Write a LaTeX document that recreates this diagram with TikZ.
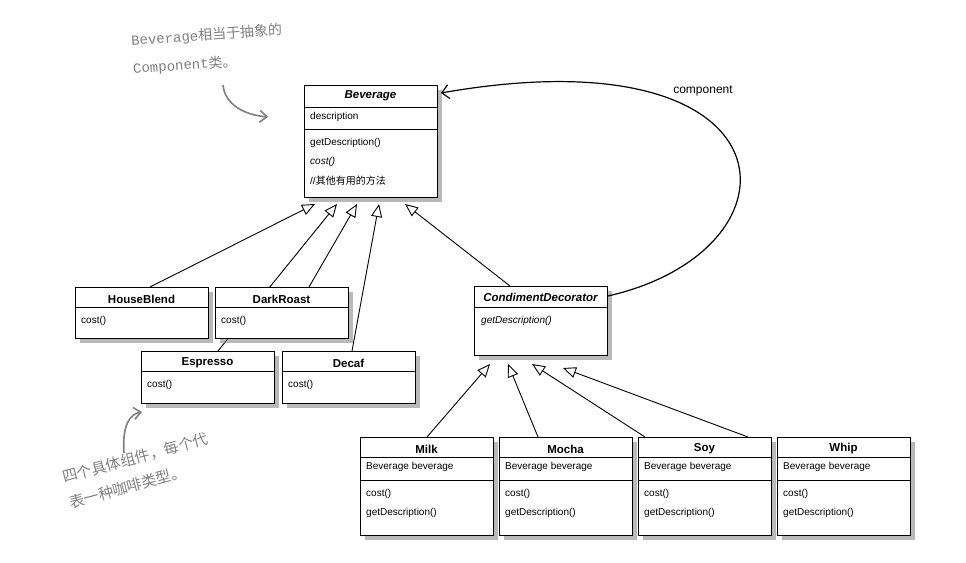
\documentclass[tikz,border=0pt]{standalone}
\usepackage{fontspec}
\setmainfont{Liberation Sans}
\newfontfamily\cjk{Noto Sans CJK SC}
\newfontfamily\hand{Liberation Mono}
\usetikzlibrary{arrows.meta,shadows,calc}
\begin{document}
\begin{tikzpicture}[x=1pt,y=-1pt,
  box/.style={draw,line width=1pt,fill=white,anchor=north west,inner sep=0,drop shadow={shadow xshift=4pt,shadow yshift=-4pt,opacity=0.55}},
  ttl/.style={font=\bfseries\fontsize{11.5}{12}\selectfont,anchor=center},
  itl/.style={font=\bfseries\itshape\fontsize{11.5}{12}\selectfont,anchor=center},
  txt/.style={font=\fontsize{10}{11}\selectfont,anchor=west,inner sep=0},
  inh/.style={line width=0.9pt,-{Triangle[open,length=13pt,width=11pt]}},
  note/.style={text=gray,anchor=west,inner sep=0,align=left},
  narrow/.style={gray,line width=1.6pt,-{Straight Barb[length=7pt,width=12pt]}}]
\useasboundingbox (0,0) rectangle (966,562);
\coordinate (b1) at (315,204);\coordinate (b2) at (337,204);\coordinate (b3) at (357,204);
\coordinate (b4) at (379,204);\coordinate (b5) at (405,204);
\coordinate (c1) at (490,364);\coordinate (c2) at (508,364);\coordinate (c3) at (532,364);\coordinate (c4) at (563,368);
% line passing behind DarkRoast
\draw[inh] (218,351) -- (b2);
% boxes
\node[box,minimum width=133,minimum height=112] (bev) at (304,85) {};
\node[box,minimum width=133,minimum height=51] (hb) at (75,287) {};
\node[box,minimum width=133,minimum height=51] (dr) at (215,287) {};
\node[box,minimum width=133,minimum height=69] (cd) at (474,286) {};
\foreach \n/\x in {milk/360,mocha/499,soy/638,whip/777}
  \node[box,minimum width=133,minimum height=98] (\n) at (\x,437) {};
\node[box,minimum width=133,minimum height=52] (esp) at (141,351) {};
\node[box,minimum width=133,minimum height=52] (dec) at (282,351) {};
% separator lines
\draw[line width=1pt] (304,107) -- (437,107) (304,129) -- (437,129);
\draw[line width=1pt] (75,307) -- (208,307) (215,307) -- (348,307);
\draw[line width=1pt] (141,371) -- (274,371) (282,371) -- (415,371);
\draw[line width=1pt] (474,307) -- (607,307);
\foreach \x in {360,499,638,777}
  \draw[line width=1pt] (\x,457) -- (\x+133,457) (\x,480) -- (\x+133,480);
% texts
\node[itl] at (370.5,96) {Beverage};
\node[txt] at (310,117) {description};
\node[txt] at (310,143) {getDescription()};
\node[txt] at (310,162) {\itshape cost()};
\node[txt] at (310,181) {//{\cjk 其他有用的方法}};
\node[ttl] at (141.5,299) {HouseBlend};
\node[txt] at (81,321) {cost()};
\node[ttl] at (281.5,299) {DarkRoast};
\node[txt] at (221,321) {cost()};
\node[ttl] at (207.5,363) {Espresso};
\node[txt] at (147,385) {cost()};
\node[ttl] at (348.5,363) {Decaf};
\node[txt] at (288,385) {cost()};
\node[itl] at (540.5,297) {CondimentDecorator};
\node[txt] at (481,321) {\itshape getDescription()};
\foreach \x/\t in {360/Milk,499/Mocha,638/Soy,777/Whip}{
  \node[ttl] at (\x+66.5,449) {\t};
  \node[txt] at (\x+6,467) {Beverage beverage};
  \node[txt] at (\x+6,494) {cost()};
  \node[txt] at (\x+6,513) {getDescription()};
}
% inheritance connectors
\draw[inh] (150,287) -- (b1);
\draw[inh] (309,287) -- (b3);
\draw[inh] (352,351) -- (b4);
\draw[inh] (510,286) -- (b5);
\draw[inh] (427,437) -- (c1);
\draw[inh] (538,437) -- (c2);
\draw[inh] (645,437) -- (c3);
\draw[inh] (748,437) -- (c4);
% component association
\draw[line width=1.2pt,-{Straight Barb[length=7pt,width=14pt]}] ($(cd.north east)+(0,10)$) .. controls (810,250) and (800,30) .. ($(bev.north east)+(3,8)$);
\node[font=\fontsize{12}{13}\selectfont] (comp) at (703,91) {component};
% notes
\node[note,rotate=4,font=\fontsize{14}{28}\selectfont] (n1) at (132,55) {{\hand Beverage}{\cjk 相当于抽象的}\\{\hand Component}{\cjk 类。}};
\draw[narrow] (223,85) .. controls (225,105) and (245,115) .. (268,117);
\node[note,rotate=15,font=\cjk\fontsize{15}{26}\selectfont] (n3) at (66,490) {四个具体组件，每个代\\表一种咖啡类型。};
\draw[narrow] (124,453) .. controls (122,425) and (130,414) .. (142,412);
\end{tikzpicture}
\end{document}
